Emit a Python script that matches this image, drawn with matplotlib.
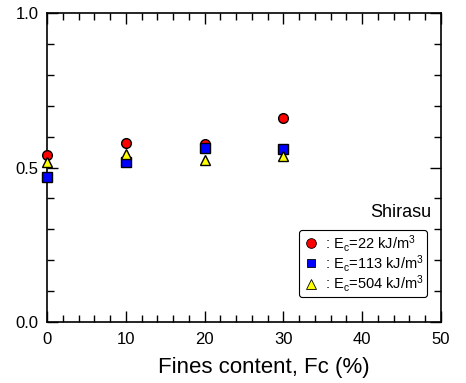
import numpy as np
import matplotlib
matplotlib.use('Agg')
import matplotlib.pyplot as plt
from matplotlib.ticker import MultipleLocator
from matplotlib.lines import Line2D

plt.rcParams['font.family'] = ['Liberation Sans', 'DejaVu Sans']
plt.rcParams['mathtext.fontset'] = 'custom'
plt.rcParams['mathtext.rm'] = 'Liberation Sans'
plt.rcParams['mathtext.it'] = 'Liberation Sans:italic'

# 数据
fc = [0, 10, 20, 30]
e22 = [0.540, 0.578, 0.575, 0.660]
e113 = [0.468, 0.518, 0.564, 0.560]
e504 = [0.517, 0.544, 0.524, 0.538]

fig = plt.figure(figsize=(4.66, 3.83), dpi=100)
ax = fig.add_axes([0.101, 0.159, 0.845, 0.807])

ax.plot(fc, e22, 'o', color='red', mec='black', mew=1.0, ms=7, zorder=3, clip_on=False)
ax.plot(fc, e113, 's', color='blue', mec='black', mew=1.0, ms=6.5, zorder=4, clip_on=False)
ax.plot(fc, e504, '^', color='yellow', mec='black', mew=1.0, ms=7, zorder=5, clip_on=False)

ax.set_xlim(0, 50)
ax.set_ylim(0, 1.0)
ax.xaxis.set_major_locator(MultipleLocator(10))
ax.xaxis.set_minor_locator(MultipleLocator(2))
ax.yaxis.set_major_locator(MultipleLocator(0.5))
ax.yaxis.set_minor_locator(MultipleLocator(0.1))
ax.yaxis.set_major_formatter(plt.FormatStrFormatter('%.1f'))
ax.tick_params(which='both', direction='in', top=True, right=True, labelsize=12, width=1)
ax.tick_params(which='major', length=8)
ax.tick_params(which='minor', length=5)
ax.tick_params(axis='x', which='major', pad=7)
ax.tick_params(axis='y', which='major', pad=6)
for s in ax.spines.values():
    s.set_linewidth(1.2)

ax.set_xlabel('Fines content, Fc (%)', fontsize=16, labelpad=7, x=0.551)

ax.text(0.975, 0.356, 'Shirasu', transform=ax.transAxes, ha='right', va='center', fontsize=13)

handles = [
    Line2D([], [], ls='none', marker='o', color='red', mec='black', mew=0.6, ms=7),
    Line2D([], [], ls='none', marker='s', color='blue', mec='black', mew=0.6, ms=6),
    Line2D([], [], ls='none', marker='^', color='yellow', mec='black', mew=0.6, ms=7),
]
labels = [r': E$_\mathrm{c}$=22 kJ/m$^3$', r': E$_\mathrm{c}$=113 kJ/m$^3$', r': E$_\mathrm{c}$=504 kJ/m$^3$']
leg = ax.legend(handles, labels, loc='lower right', bbox_to_anchor=(0.965, 0.081),
                fontsize=10.5, handlelength=1.2, handletextpad=0.4, labelspacing=-0.05,
                borderpad=0.2, borderaxespad=0, frameon=True, fancybox=True, framealpha=1)
leg.get_frame().set_edgecolor('black')
leg.get_frame().set_linewidth(0.8)

plt.savefig('out.png', dpi=100)
